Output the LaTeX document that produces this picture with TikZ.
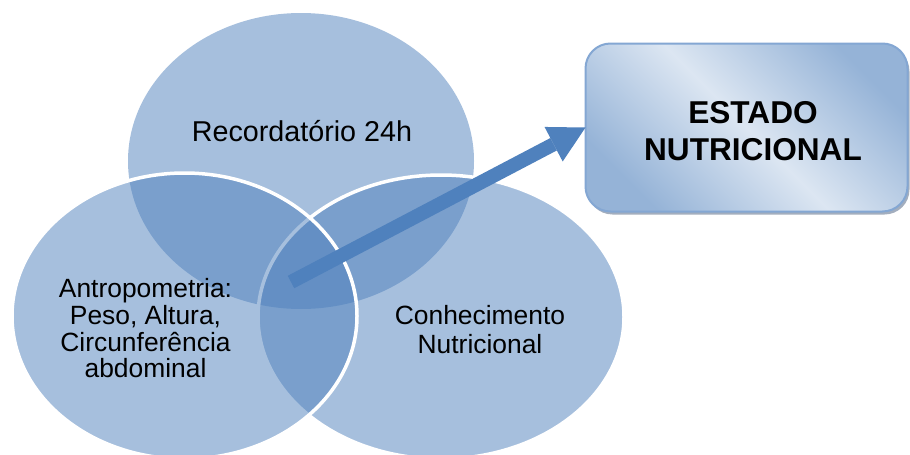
\documentclass[tikz,border=0pt]{standalone}
\usepackage{fontspec}
\setmainfont{Liberation Sans}
\usetikzlibrary{arrows.meta,shadows}
\definecolor{vblue}{HTML}{4F81BD}
\definecolor{boxlight}{HTML}{DCE6F2}
\definecolor{boxdark}{HTML}{95B3D7}
\definecolor{boxline}{HTML}{84A7D3}
\definecolor{shadowgray}{HTML}{8C9AAE}
\begin{document}
\begin{tikzpicture}[x=1pt,y=-1pt,
  vennfill/.style={fill=vblue, fill opacity=0.5},
  vennline/.style={vennfill, draw=white, line width=3.5pt},
  lbl/.style={font=\fontsize{26.4}{26.7}\selectfont, align=center, inner sep=0pt, text=black},
  lbltwo/.style={font=\fontsize{26.4}{28.3}\selectfont, align=center, inner sep=0pt, text=black},
  toplbl/.style={font=\fontsize{28.7}{33}\selectfont, inner sep=0pt, anchor=base, text=black},
  estbox/.style={rounded corners=25pt, minimum width=322pt, minimum height=168pt,
    draw=boxline, line width=2pt, left color=boxdark, right color=boxdark,
    middle color=boxlight, shading angle=-45,
    drop shadow={shadow xshift=2pt, shadow yshift=-3pt, fill=shadowgray, opacity=0.8},
    inner sep=0pt, outer sep=0pt},
  esttext/.style={font=\bfseries\fontsize{31.6}{37.5}\selectfont, align=center, inner sep=0pt, text=black},
  bigarrow/.style={draw=vblue, line width=14pt,
    -{Triangle[length=36pt 0 0, width=39pt 0 0, line width=0pt 0 0, fill=vblue]}}]
\useasboundingbox (0,0) rectangle (910,455);
\fill[white] (0,0) rectangle (910,455);
% circles
\path[vennfill] (301,161) ellipse [x radius=173, y radius=148];
\path[vennline] (441,317) ellipse [x radius=183, y radius=142];
\path[vennline] (184.5,316) ellipse [x radius=172.5, y radius=143];
% labels
\node (rec) [toplbl] at (302,141) {Recordatório 24h};
\node (antro) [lbl] at (145.5,328.3) {Antropometria:\\Peso, Altura,\\Circunferência\\abdominal};
\node (conh) [lbltwo] at (480,329.7) {Conhecimento\\Nutricional};
% box
\node (box) [estbox] at (746.5,127.5) {};
\node (est) [esttext] at (753,131) {ESTADO\\NUTRICIONAL};
% arrow
\coordinate (tail) at (291,282);
\draw[bigarrow] (tail) -- (box.west);
\end{tikzpicture}
\end{document}
